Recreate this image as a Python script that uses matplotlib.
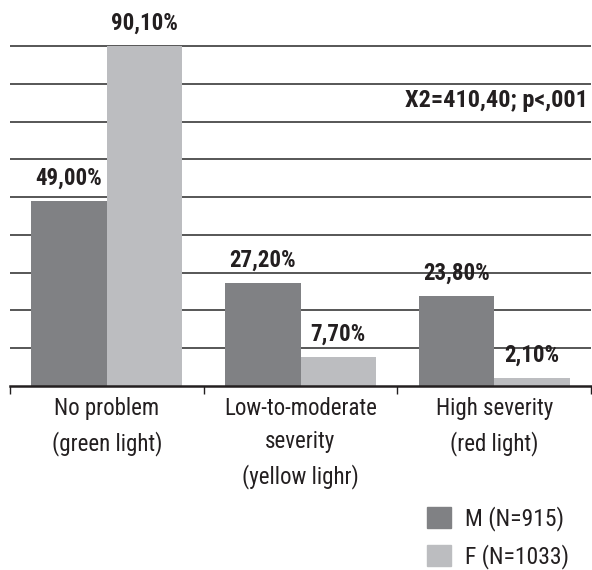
import matplotlib.pyplot as plt
from matplotlib.patches import Patch
import numpy as np

# categories and percentages per group
categories = ['No problem\n(green light)',
              'Low-to-moderate\nseverity\n(yellow lighr)',
              'High severity\n(red light)']
male = [49.0, 27.2, 23.8]
female = [90.1, 7.7, 2.1]
series_names = ['M (N=915)', 'F (N=1033)']
stat_text = 'X2=410,40; p<,001'

plt.rcParams['font.family'] = ['Roboto Condensed', 'DejaVu Sans']

c_m = '#808184'
c_f = '#bcbdc0'
c_txt = '#231f20'

fig = plt.figure(figsize=(5.92, 5.70), dpi=100)
ax = fig.add_axes([10 / 592, 184 / 570, 581 / 592, 386 / 570])

x = np.arange(len(categories))
w = 0.39
bars_m = ax.bar(x - w / 2, male, w, color=c_m, zorder=3)
bars_f = ax.bar(x + w / 2, female, w, color=c_f, zorder=3)

def fmt(v):
    return '{:.2f}%'.format(v).replace('.', ',')

for bars, vals in [(bars_m, male), (bars_f, female)]:
    for b, v in zip(bars, vals):
        ax.annotate(fmt(v), (b.get_x() + b.get_width() / 2, v),
                    xytext=(0, 8), textcoords='offset points',
                    ha='center', va='bottom', fontsize=16.5, fontweight='bold',
                    color=c_txt)

ax.text(0.995, 75.6, stat_text, transform=ax.get_yaxis_transform(),
        ha='right', va='center', fontsize=17.5, fontweight='bold', color=c_txt)

ax.set_xlim(-0.5, 2.5)
ax.set_ylim(0, 102.2)
ax.set_yticks(np.arange(10, 100, 10))
ax.yaxis.grid(True, color='#3a3a3a', lw=1.2, zorder=0)
ax.tick_params(axis='y', length=0, labelleft=False)

# category boundaries get tick marks, names sit at the centers
ax.set_xticks([-0.5, 0.5, 1.5, 2.5])
ax.set_xticklabels([])
ax.set_xticks(x, minor=True)
ax.set_xticklabels(categories, minor=True, fontsize=16.5, color=c_txt,
                   linespacing=1.55)
ax.tick_params(axis='x', which='major', length=6, width=1, color=c_txt)
ax.tick_params(axis='x', which='minor', length=0, pad=8)

for s in ['top', 'right', 'left']:
    ax.spines[s].set_visible(False)
ax.spines['bottom'].set_linewidth(1.8)
ax.spines['bottom'].set_color(c_txt)
ax.spines['bottom'].set_zorder(4)

handles = [Patch(color=c_m), Patch(color=c_f)]
fig.legend(handles, series_names, loc='upper left',
           bbox_to_anchor=(427 / 592, 1 - 506 / 570), frameon=False,
           borderpad=0, borderaxespad=0,
           fontsize=17, handlelength=1.0, handleheight=1.0,
           handletextpad=0.6, labelspacing=0.55, labelcolor=c_txt)

fig.savefig('out.png', dpi=100)
